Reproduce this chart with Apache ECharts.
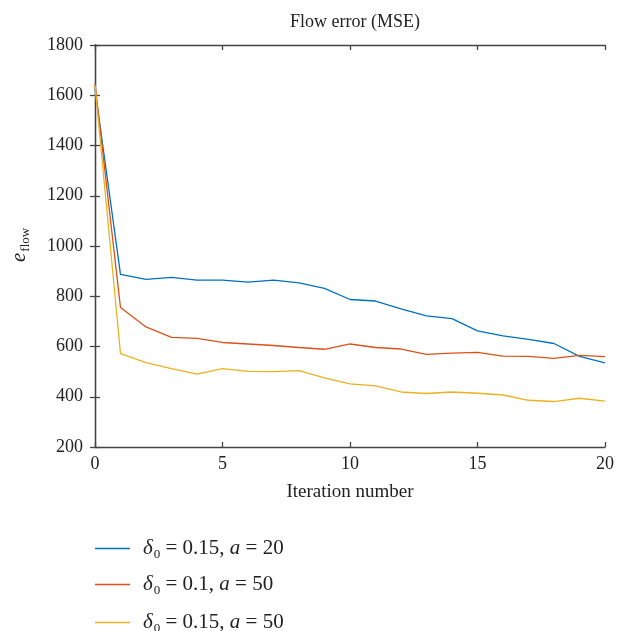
<!DOCTYPE html>
<html><head><meta charset="utf-8">
<script src="https://cdn.jsdelivr.net/npm/echarts@6/dist/echarts.min.js"></script>
<style>html,body{margin:0;padding:0;background:#fff}#c{width:623px;height:631px}</style>
</head><body><div id="c"></div>
<script>
const iterations = [0,1,2,3,4,5,6,7,8,9,10,11,12,13,14,15,16,17,18,19,20];
const blueVals = [1625,887,867,875,864,864,856,864,853,831,787,781,750,722,711,662,642,628,612,561,535];
const redVals = [1645,755,678,636,632,616,610,604,596,589,610,596,590,569,574,577,562,561,553,565,560];
const yellowVals = [1640,572,536,512,490,512,501,500,504,475,451,443,419,413,419,414,407,386,381,394,383];
const seriesNames = ['δ0 = 0.15, a = 20','δ0 = 0.1, a = 50','δ0 = 0.15, a = 50'];
const legendParts = [['0.15','20'],['0.1','50'],['0.15','50']];
const colors = ['#0072BD','#D95319','#EDB120'];

const F = 'Liberation Serif, Times New Roman, serif';
const chart = echarts.init(document.getElementById('c'));
const axisLine = {show:true, lineStyle:{color:'#444', width:1.3}};
const tick = {show:true, inside:true, length:5, lineStyle:{color:'#444', width:1.3}};
const mkX = (pos, labels) => ({
  type:'value', position:pos, min:0, max:20, interval:5,
  axisLine, axisTick:tick,
  axisLabel:{show:labels, color:'#222', fontFamily:F, fontSize:18, margin:8},
  splitLine:{show:false}
});
const mkY = (pos, labels) => ({
  type:'value', position:pos, min:200, max:1800, interval:200,
  axisLine, axisTick:tick,
  axisLabel:{show:labels, color:'#222', fontFamily:F, fontSize:18, margin:12, formatter:v=>String(v)},
  splitLine:{show:false}
});
const x0 = mkX('bottom', true);
x0.name = 'Iteration number'; x0.nameLocation='middle'; x0.nameGap=36;
x0.nameTextStyle = {fontFamily:F, fontSize:19, color:'#222'};
const vals = [blueVals, redVals, yellowVals];
const legendTops = [538, 574, 612];
const legends = seriesNames.map((n,i)=>({
  left:95, top:legendTops[i], padding:0, itemWidth:35, itemHeight:1.5, itemGap:0,
  icon:'rect',
  itemStyle:{color:colors[i], borderWidth:0},
  data:[n],
  formatter:function(name){
    const p = legendParts[seriesNames.indexOf(name)];
    return '{it|δ}{sub|0}{n| = ' + p[0] + ', }{it|a}{n| = ' + p[1] + '}';
  },
  textStyle:{fontFamily:F, fontSize:21, color:'#222', padding:[0,0,0,8],
    rich:{
      it:{fontFamily:F, fontSize:21, fontStyle:'italic', color:'#222', height:24},
      sub:{fontFamily:F, fontSize:13, color:'#222', padding:[13,0,0,1], height:24},
      n:{fontFamily:F, fontSize:21, color:'#222', height:24}
    }}
}));
chart.setOption({
  animation:false,
  title:{text:'Flow error (MSE)', left:350, textAlign:'center', top:8,
    textStyle:{fontFamily:F, fontSize:18, fontWeight:'normal', color:'#222'}},
  grid:{left:95, right:18, top:45, bottom:184},
  xAxis:[x0, mkX('top', false)],
  yAxis:[mkY('left', true), mkY('right', false)],
  legend:legends,
  graphic:[{
    type:'text', x:7, y:262, rotation:Math.PI/2,
    style:{text:'{e|e}{s|flow}', rich:{
      e:{fontFamily:F, fontSize:21, fontStyle:'italic', fill:'#222'},
      s:{fontFamily:F, fontSize:13, fill:'#222', padding:[12,0,0,1]}
    }}
  }],
  series: seriesNames.map((n,i)=>({
    name:n, type:'line', showSymbol:false, symbol:'none',
    data: iterations.map((x,j)=>[x, vals[i][j]]),
    lineStyle:{color:colors[i], width:1.3}, itemStyle:{color:colors[i]}
  }))
});
</script></body></html>
